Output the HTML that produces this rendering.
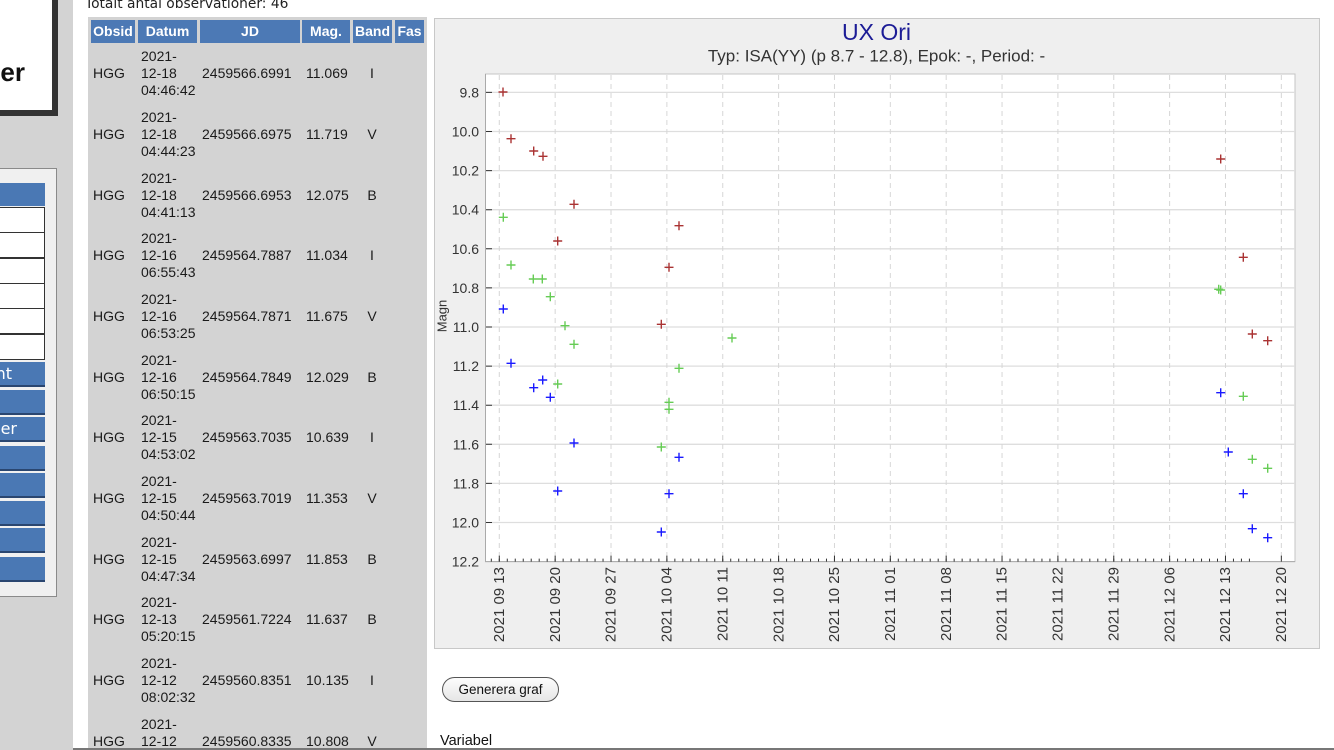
<!DOCTYPE html>
<html><head><meta charset="utf-8">
<style>
*{box-sizing:border-box;margin:0;padding:0}
html,body{width:1334px;height:750px;overflow:hidden}
body{background:#fff;position:relative;font-family:"Liberation Sans",Arial,sans-serif;color:#111}
.a{position:absolute;white-space:nowrap}
.lp{position:absolute;left:0;top:0;width:73px;height:750px;background:#d3d3d3}
.wb{position:absolute;left:-10px;top:-10px;width:68px;height:126px;background:#fff;border-right:6px solid #333;border-bottom:6px solid #333}
.nav{position:absolute;left:-5px;top:168px;width:62px;height:429px;background:#f0f0f0;border:1px solid #8a8a8a}
.inp{position:absolute;left:-2px;width:47px;height:26px;background:#fff;border:1px solid #333}
.btn{position:absolute;left:0;width:45px;height:25px;background:#4a78b4;border-bottom:2px solid #2a4670;overflow:visible}
.btn span{position:absolute;right:33px;top:0;line-height:24px;font-family:"DejaVu Sans",sans-serif;font-size:16px;color:#fff}
.tbl{position:absolute;left:88px;top:17px;width:339px;height:733px;background:#d3d3d3}
.th{position:absolute;top:20px;height:23px;background:#4c79b5;color:#fff;font-weight:bold;font-size:14px;line-height:23px;text-align:center}
.row{position:absolute;left:0;width:430px;height:51px;font-size:14px;line-height:17px;color:#1a1a1a}
.row span{position:absolute;white-space:nowrap}
.c1{left:93px;top:17px}
.c2{left:141px;top:0}
.c3{left:202px;top:17px}
.c4{left:306px;top:17px}
.c5{left:352px;width:40px;text-align:center;top:17px}
.chart{position:absolute;left:434px;top:18px;width:886px;height:631px;background:#efefef;border:1px solid #c8c8c8}
</style></head><body>

<div class="lp"></div>
<div class="wb"></div>
<div class="a" style="left:0;top:59px;width:25px;font-size:26px;line-height:26px;font-weight:bold;text-align:right;direction:rtl">er</div>

<div class="nav"></div>
<div class="a" style="left:0;top:183px;width:45px;height:23px;background:#4a78b4"></div>
<div class="inp" style="top:207px"></div>
<div class="inp" style="top:232px"></div>
<div class="inp" style="top:258px"></div>
<div class="inp" style="top:283px"></div>
<div class="inp" style="top:308px"></div>
<div class="inp" style="top:334px"></div>
<div class="btn" style="top:362px"><span>nt</span></div>
<div class="btn" style="top:390px"></div>
<div class="btn" style="top:417px"><span style="right:28px">er</span></div>
<div class="btn" style="top:446px"></div>
<div class="btn" style="top:473px"></div>
<div class="btn" style="top:501px"></div>
<div class="btn" style="top:528px"></div>
<div class="btn" style="top:557px"></div>

<div class="a" style="left:85px;top:-4px;font-family:'DejaVu Sans',sans-serif;font-size:13.8px;line-height:16px;color:#222">Totalt antal observationer: 46</div>

<div class="tbl"></div>
<div class="th" style="left:91px;width:44px">Obsid</div>
<div class="th" style="left:138px;width:59px">Datum</div>
<div class="th" style="left:200px;width:100px">JD</div>
<div class="th" style="left:302px;width:48px">Mag.</div>
<div class="th" style="left:353px;width:39px">Band</div>
<div class="th" style="left:395px;width:29px">Fas</div>

<div class="row" style="top:48.2px"><span class="c1">HGG</span><span class="c2">2021-<br>12-18<br>04:46:42</span><span class="c3">2459566.6991</span><span class="c4">11.069</span><span class="c5">I</span></div>
<div class="row" style="top:108.9px"><span class="c1">HGG</span><span class="c2">2021-<br>12-18<br>04:44:23</span><span class="c3">2459566.6975</span><span class="c4">11.719</span><span class="c5">V</span></div>
<div class="row" style="top:169.5px"><span class="c1">HGG</span><span class="c2">2021-<br>12-18<br>04:41:13</span><span class="c3">2459566.6953</span><span class="c4">12.075</span><span class="c5">B</span></div>
<div class="row" style="top:230.2px"><span class="c1">HGG</span><span class="c2">2021-<br>12-16<br>06:55:43</span><span class="c3">2459564.7887</span><span class="c4">11.034</span><span class="c5">I</span></div>
<div class="row" style="top:290.9px"><span class="c1">HGG</span><span class="c2">2021-<br>12-16<br>06:53:25</span><span class="c3">2459564.7871</span><span class="c4">11.675</span><span class="c5">V</span></div>
<div class="row" style="top:351.6px"><span class="c1">HGG</span><span class="c2">2021-<br>12-16<br>06:50:15</span><span class="c3">2459564.7849</span><span class="c4">12.029</span><span class="c5">B</span></div>
<div class="row" style="top:412.2px"><span class="c1">HGG</span><span class="c2">2021-<br>12-15<br>04:53:02</span><span class="c3">2459563.7035</span><span class="c4">10.639</span><span class="c5">I</span></div>
<div class="row" style="top:472.9px"><span class="c1">HGG</span><span class="c2">2021-<br>12-15<br>04:50:44</span><span class="c3">2459563.7019</span><span class="c4">11.353</span><span class="c5">V</span></div>
<div class="row" style="top:533.6px"><span class="c1">HGG</span><span class="c2">2021-<br>12-15<br>04:47:34</span><span class="c3">2459563.6997</span><span class="c4">11.853</span><span class="c5">B</span></div>
<div class="row" style="top:594.2px"><span class="c1">HGG</span><span class="c2">2021-<br>12-13<br>05:20:15</span><span class="c3">2459561.7224</span><span class="c4">11.637</span><span class="c5">B</span></div>
<div class="row" style="top:654.9px"><span class="c1">HGG</span><span class="c2">2021-<br>12-12<br>08:02:32</span><span class="c3">2459560.8351</span><span class="c4">10.135</span><span class="c5">I</span></div>
<div class="row" style="top:715.6px"><span class="c1">HGG</span><span class="c2">2021-<br>12-12</span><span class="c3">2459560.8335</span><span class="c4">10.808</span><span class="c5">V</span></div>

<div class="chart"></div>

<svg class="a" style="left:0;top:0" width="1334" height="750" viewBox="0 0 1334 750" xmlns="http://www.w3.org/2000/svg" font-family="Liberation Sans, Arial, sans-serif">
<text x="876.5" y="40" font-size="23" fill="#1c1c96" text-anchor="middle">UX Ori</text>
<text x="876.5" y="61.5" font-size="17" fill="#333" text-anchor="middle">Typ: ISA(YY) (p 8.7 - 12.8), Epok: -, Period: -</text>
<rect x="485.5" y="74" width="809.5" height="487.6" fill="#fff" stroke="#c4c4c4" stroke-width="1"/>
<g stroke="#dedede" stroke-width="1.3">
<path d="M486 92.4H1295M486 131.5H1295M486 170.6H1295M486 209.7H1295M486 248.8H1295M486 287.9H1295M486 327H1295M486 366.1H1295M486 405.2H1295M486 444.3H1295M486 483.4H1295M486 522.5H1295"/>
</g>
<g stroke="#d6d6d6" stroke-width="1" stroke-dasharray="5 4">
<path d="M499.3 75V561M555.16 75V561M611.02 75V561M666.88 75V561M722.74 75V561M778.6 75V561M834.46 75V561M890.32 75V561M946.18 75V561M1002.04 75V561M1057.9 75V561M1113.76 75V561M1169.62 75V561M1225.48 75V561M1281.34 75V561"/>
</g>
<path d="M485.5 74V561.6H1295" fill="none" stroke="#aaa" stroke-width="1"/>
<g stroke="#333" stroke-width="1">
<path d="M486 92.4h6M486 131.5h6M486 170.6h6M486 209.7h6M486 248.8h6M486 287.9h6M486 327h6M486 366.1h6M486 405.2h6M486 444.3h6M486 483.4h6M486 522.5h6"/>
<path d="M491.32 561.6v-3m7.98 3v-3m7.98 3v-3m7.98 3v-3m7.98 3v-3m7.98 3v-3m7.98 3v-3m7.98 3v-3m7.98 3v-3m7.98 3v-3m7.98 3v-3m7.98 3v-3m7.98 3v-3m7.98 3v-3m7.98 3v-3m7.98 3v-3m7.98 3v-3m7.98 3v-3m7.98 3v-3m7.98 3v-3m7.98 3v-3m7.98 3v-3m7.98 3v-3m7.98 3v-3m7.98 3v-3m7.98 3v-3m7.98 3v-3m7.98 3v-3m7.98 3v-3m7.98 3v-3m7.98 3v-3m7.98 3v-3m7.98 3v-3m7.98 3v-3m7.98 3v-3m7.98 3v-3m7.98 3v-3m7.98 3v-3m7.98 3v-3m7.98 3v-3m7.98 3v-3m7.98 3v-3m7.98 3v-3m7.98 3v-3m7.98 3v-3m7.98 3v-3m7.98 3v-3m7.98 3v-3m7.98 3v-3m7.98 3v-3m7.98 3v-3m7.98 3v-3m7.98 3v-3m7.98 3v-3m7.98 3v-3m7.98 3v-3m7.98 3v-3m7.98 3v-3m7.98 3v-3m7.98 3v-3m7.98 3v-3m7.98 3v-3m7.98 3v-3m7.98 3v-3m7.98 3v-3m7.98 3v-3m7.98 3v-3m7.98 3v-3m7.98 3v-3m7.98 3v-3m7.98 3v-3m7.98 3v-3m7.98 3v-3m7.98 3v-3m7.98 3v-3m7.98 3v-3m7.98 3v-3m7.98 3v-3m7.98 3v-3m7.98 3v-3m7.98 3v-3m7.98 3v-3m7.98 3v-3m7.98 3v-3m7.98 3v-3m7.98 3v-3m7.98 3v-3m7.98 3v-3m7.98 3v-3m7.98 3v-3m7.98 3v-3m7.98 3v-3m7.98 3v-3m7.98 3v-3m7.98 3v-3m7.98 3v-3"/>
<path d="M499.3 561.6v-6M555.16 561.6v-6M611.02 561.6v-6M666.88 561.6v-6M722.74 561.6v-6M778.6 561.6v-6M834.46 561.6v-6M890.32 561.6v-6M946.18 561.6v-6M1002.04 561.6v-6M1057.9 561.6v-6M1113.76 561.6v-6M1169.62 561.6v-6M1225.48 561.6v-6M1281.34 561.6v-6"/>
</g>
<g font-size="14" fill="#333" text-anchor="end">
<text x="479" y="97.4">9.8</text>
<text x="479" y="136.5">10.0</text>
<text x="479" y="175.6">10.2</text>
<text x="479" y="214.7">10.4</text>
<text x="479" y="253.8">10.6</text>
<text x="479" y="292.9">10.8</text>
<text x="479" y="332">11.0</text>
<text x="479" y="371.1">11.2</text>
<text x="479" y="410.2">11.4</text>
<text x="479" y="449.3">11.6</text>
<text x="479" y="488.4">11.8</text>
<text x="479" y="527.5">12.0</text>
<text x="479" y="566.6">12.2</text>
</g>
<text transform="translate(446.5,316) rotate(-90)" font-size="13" fill="#333" text-anchor="middle">Magn</text>
<g font-size="15" fill="#333" text-anchor="end">
<text transform="translate(504,567) rotate(-90)">2021 09 13</text>
<text transform="translate(559.9,567) rotate(-90)">2021 09 20</text>
<text transform="translate(615.7,567) rotate(-90)">2021 09 27</text>
<text transform="translate(671.6,567) rotate(-90)">2021 10 04</text>
<text transform="translate(727.4,567) rotate(-90)">2021 10 11</text>
<text transform="translate(783.3,567) rotate(-90)">2021 10 18</text>
<text transform="translate(839.2,567) rotate(-90)">2021 10 25</text>
<text transform="translate(895,567) rotate(-90)">2021 11 01</text>
<text transform="translate(950.9,567) rotate(-90)">2021 11 08</text>
<text transform="translate(1006.7,567) rotate(-90)">2021 11 15</text>
<text transform="translate(1062.6,567) rotate(-90)">2021 11 22</text>
<text transform="translate(1118.5,567) rotate(-90)">2021 11 29</text>
<text transform="translate(1174.3,567) rotate(-90)">2021 12 06</text>
<text transform="translate(1230.2,567) rotate(-90)">2021 12 13</text>
<text transform="translate(1286,567) rotate(-90)">2021 12 20</text>
</g>
<path fill="none" stroke="#aa3333" stroke-width="1.4" d="M498.5 92h9m-4.5-4.5v9M506.5 138.7h9m-4.5-4.5v9M529.2 151h9m-4.5-4.5v9M538.5 156.3h9m-4.5-4.5v9M569.5 204.3h9m-4.5-4.5v9M553.2 241h9m-4.5-4.5v9M674.5 225.7h9m-4.5-4.5v9M664.5 267.3h9m-4.5-4.5v9M656.8 324.3h9m-4.5-4.5v9M1216.2 159h9m-4.5-4.5v9M1238.8 257.3h9m-4.5-4.5v9M1247.8 334h9m-4.5-4.5v9M1263.2 340.7h9m-4.5-4.5v9"/>
<path fill="none" stroke="#66cc55" stroke-width="1.4" d="M498.8 217.3h9m-4.5-4.5v9M506.5 265h9m-4.5-4.5v9M528.8 279h9m-4.5-4.5v9M537.8 279h9m-4.5-4.5v9M545.8 296.7h9m-4.5-4.5v9M560.5 325.7h9m-4.5-4.5v9M569.5 344.3h9m-4.5-4.5v9M553.2 384h9m-4.5-4.5v9M656.8 447h9m-4.5-4.5v9M664.5 402.3h9m-4.5-4.5v9M664.5 409.3h9m-4.5-4.5v9M674.5 368.3h9m-4.5-4.5v9M727.5 338h9m-4.5-4.5v9M1214.2 289.3h9m-4.5-4.5v9M1216.2 290h9m-4.5-4.5v9M1238.8 396.3h9m-4.5-4.5v9M1247.8 459.3h9m-4.5-4.5v9M1263.2 468.3h9m-4.5-4.5v9"/>
<path fill="none" stroke="#1a1aff" stroke-width="1.4" d="M498.8 309h9m-4.5-4.5v9M506.5 363.3h9m-4.5-4.5v9M529.2 387.7h9m-4.5-4.5v9M538.2 380h9m-4.5-4.5v9M545.8 397.3h9m-4.5-4.5v9M569.5 443h9m-4.5-4.5v9M553.2 491h9m-4.5-4.5v9M656.8 532h9m-4.5-4.5v9M664.5 493.7h9m-4.5-4.5v9M674.5 457.3h9m-4.5-4.5v9M1216.2 392.7h9m-4.5-4.5v9M1223.8 452h9m-4.5-4.5v9M1238.8 493.7h9m-4.5-4.5v9M1247.8 528.7h9m-4.5-4.5v9M1263.2 537.7h9m-4.5-4.5v9"/>
</svg>

<div class="a" style="left:442px;top:677px;width:117px;height:25px;border:1px solid #555;border-radius:13px;background:linear-gradient(#fdfdfd,#e6e6e6);font-size:13.5px;line-height:23px;text-align:center;color:#111">Generera graf</div>
<div class="a" style="left:440px;top:733px;font-size:14.5px;line-height:16px;color:#111">Variabel</div>
<div class="a" style="left:73px;top:748px;width:1261px;height:2px;background:#777"></div>
</body></html>
